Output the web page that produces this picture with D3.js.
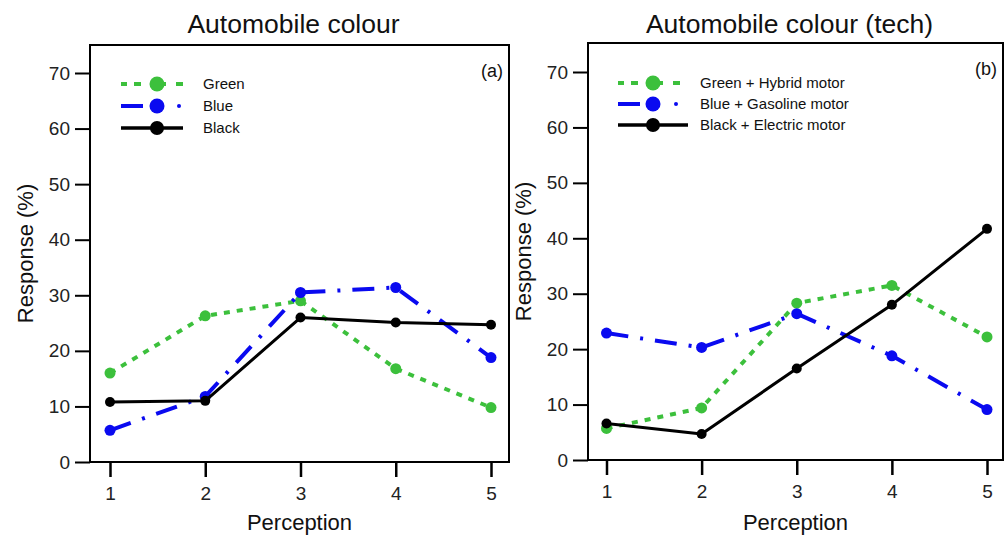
<!DOCTYPE html>
<html>
<head>
<meta charset="utf-8">
<script src="https://cdn.jsdelivr.net/npm/d3@7"></script>
<style>
  html, body { margin: 0; padding: 0; background: #fff; }
  svg { display: block; font-family: "Liberation Sans", Arial, sans-serif; }
</style>
</head>
<body>
<svg id="chart" width="1008" height="535"></svg>
<script>
// ---- data ----
const perception = [1, 2, 3, 4, 5];
const yTicks = [0, 10, 20, 30, 40, 50, 60, 70];

const greenA = [16.0, 26.3, 29.0, 16.8, 9.8];
const blueA  = [5.7, 11.8, 30.5, 31.4, 18.8];
const blackA = [10.8, 11.0, 26.0, 25.1, 24.7];

const greenB = [5.7, 9.4, 28.3, 31.5, 22.2];
const blueB  = [22.9, 20.3, 26.4, 18.8, 9.1];
const blackB = [6.6, 4.7, 16.5, 28.0, 41.7];

const labelsA = ["Green", "Blue", "Black"];
const labelsB = ["Green + Hybrid motor", "Blue + Gasoline motor", "Black + Electric motor"];

const titleA = "Automobile colour";
const titleB = "Automobile colour (tech)";

// ---- styles ----
const styles = [
  { color: "#3cc03c", width: 4,   dash: "6,7",        r: 5.5, lr: 7.5 },
  { color: "#0a0af0", width: 4,   dash: "22,12,3,12", r: 5.5, lr: 7.5 },
  { color: "#000000", width: 3,   dash: null,         r: 5,   lr: 7   }
];

const svg = d3.select("#chart");

function drawPanel(cfg) {
  const g = svg.append("g");
  const x = d3.scaleLinear().domain([1, 5]).range([cfg.x1, cfg.x5]);
  const y = d3.scaleLinear().domain([0, 70]).range([cfg.y0, cfg.y70]);

  // frame
  g.append("rect")
    .attr("x", cfg.fl).attr("y", cfg.ft)
    .attr("width", cfg.fr - cfg.fl).attr("height", cfg.y0 - cfg.ft)
    .attr("fill", "none").attr("stroke", "#000").attr("stroke-width", 2);

  // y axis
  const yAxis = d3.axisLeft(y).tickValues(yTicks).tickSize(15).tickPadding(5);
  const ya = g.append("g").attr("transform", `translate(${cfg.fl},0)`).call(yAxis);
  ya.select(".domain").remove();
  ya.selectAll(".tick line").attr("stroke-width", 2);
  ya.selectAll(".tick text").attr("font-size", 19).attr("font-family", "Liberation Sans, Arial, sans-serif").attr("fill", "#222");

  // x axis
  const xAxis = d3.axisBottom(x).tickValues(perception).tickSize(15).tickPadding(10).tickFormat(d3.format("d"));
  const xa = g.append("g").attr("transform", `translate(0,${cfg.y0})`).call(xAxis);
  xa.select(".domain").remove();
  xa.selectAll(".tick line").attr("stroke-width", 2.5);
  xa.selectAll(".tick text").attr("font-size", 19).attr("font-family", "Liberation Sans, Arial, sans-serif").attr("fill", "#222");

  // titles
  g.append("text").attr("x", (cfg.fl + cfg.fr) / 2 - 6).attr("y", 33)
    .attr("text-anchor", "middle").attr("font-size", 26.5).attr("fill", "#111").text(cfg.title);
  g.append("text").attr("x", (cfg.fl + cfg.fr) / 2).attr("y", 530)
    .attr("text-anchor", "middle").attr("font-size", 22).attr("fill", "#111").text("Perception");
  g.append("text")
    .attr("transform", `translate(${cfg.fl - 57},${(cfg.y0 + cfg.ft) / 2}) rotate(-90)`)
    .attr("text-anchor", "middle").attr("font-size", 22).attr("fill", "#111").text("Response (%)");
  g.append("text").attr("x", cfg.fr - 6).attr("y", cfg.ft + 32)
    .attr("text-anchor", "end").attr("font-size", 18).attr("fill", "#111").text(cfg.tag);

  // series
  const line = d3.line().x((d, i) => x(perception[i])).y(d => y(d));
  cfg.series.forEach((vals, k) => {
    const s = styles[k];
    g.append("path").datum(vals).attr("d", line)
      .attr("fill", "none").attr("stroke", s.color).attr("stroke-width", s.width)
      .attr("stroke-dasharray", s.dash).attr("stroke-linejoin", "round");
    g.selectAll(null).data(vals).enter().append("circle")
      .attr("cx", (d, i) => x(perception[i])).attr("cy", d => y(d))
      .attr("r", s.r).attr("fill", s.color);
  });

  // legend
  cfg.labels.forEach((lab, k) => {
    const s = styles[k];
    const ly = cfg.ly + k * cfg.lstep;
    const lg = g.append("g");
    if (k === 0) {
      [[0, 6], [13, 20], [33, 45], [55, 62]].forEach(([a, b]) =>
        lg.append("line").attr("x1", cfg.lx + a).attr("x2", cfg.lx + b).attr("y1", ly).attr("y2", ly)
          .attr("stroke", s.color).attr("stroke-width", s.width));
    } else if (k === 1) {
      lg.append("line").attr("x1", cfg.lx).attr("x2", cfg.lx + 22).attr("y1", ly).attr("y2", ly)
        .attr("stroke", s.color).attr("stroke-width", s.width);
      lg.append("circle").attr("cx", cfg.lx + 58).attr("cy", ly).attr("r", 2).attr("fill", s.color);
    } else {
      lg.append("line").attr("x1", cfg.lx).attr("x2", cfg.lx + cfg.llen).attr("y1", ly).attr("y2", ly)
        .attr("stroke", s.color).attr("stroke-width", s.width + 0.5);
    }
    lg.append("circle").attr("cx", cfg.lx + cfg.lmark).attr("cy", ly).attr("r", s.lr).attr("fill", s.color);
    lg.append("text").attr("x", cfg.tx).attr("y", ly + 5).attr("font-size", 15).attr("fill", "#111").text(lab);
  });
}

drawPanel({
  title: titleA, tag: "(a)",
  fl: 90, fr: 509, ft: 45, y0: 462, y70: 73,
  x1: 110, x5: 491,
  series: [greenA, blueA, blackA], labels: labelsA,
  lx: 121, llen: 62, lmark: 36, ly: 84, lstep: 22, tx: 203
});

drawPanel({
  title: titleB, tag: "(b)",
  fl: 588, fr: 1003, ft: 43, y0: 460, y70: 72,
  x1: 606.5, x5: 987,
  series: [greenB, blueB, blackB], labels: labelsB,
  lx: 618, llen: 70, lmark: 35, ly: 83, lstep: 21, tx: 700
});
</script>
</body>
</html>
